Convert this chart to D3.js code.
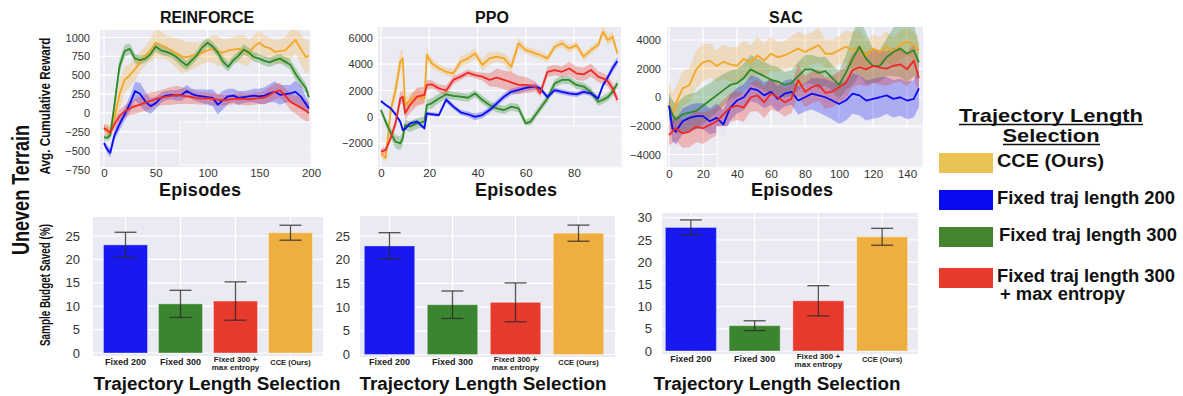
<!DOCTYPE html>
<html lang="en">
<head>
<meta charset="UTF-8">
<title>Uneven Terrain</title>
<script src="https://d3js.org/d3.v7.min.js"></script>
<style>
  body { margin: 0; background: #fff; }
  svg { display: block; font-family: "Liberation Sans", Arial, sans-serif; }
</style>
</head>
<body>
<svg width="1183" height="396"></svg>
<script>
// ---- REINFORCE learning curves ----
const rfEpisodes = [0,3,6,10,15,20,25,30,35,40,45,50,55,60,65,70,75,80,85,90,95,100,105,110,115,120,125,130,135,140,145,150,155,160,165,170,175,180,185,190,195,198];
const rfCCE = [-200,-230,-240,-70,250,440,500,580,680,760,830,930,900,870,830,790,750,740,760,770,800,830,850,820,800,830,840,850,830,800,880,930,880,860,810,820,830,900,970,850,740,760];
const rfCCEErr = [60,80,90,120,200,180,150,150,130,120,150,200,180,160,170,200,220,200,180,160,150,160,180,200,170,150,160,180,200,170,150,160,150,140,150,160,180,200,180,200,220,200];
const rfFixed200 = [-400,-480,-530,-300,-150,-20,120,290,250,150,90,130,200,230,240,230,240,290,250,230,220,210,200,110,170,220,230,200,210,220,230,220,230,260,280,240,250,260,280,220,120,60];
const rfFixed200Err = [40,50,60,70,80,80,100,120,150,130,100,80,70,60,60,70,80,80,70,80,90,100,110,130,120,100,90,90,80,80,90,100,110,120,140,130,120,110,150,140,100,80];
const rfFixed300 = [-320,-330,-300,100,620,820,850,720,700,720,780,880,830,810,785,740,680,630,700,770,870,930,880,800,680,610,700,760,840,800,740,720,690,670,700,720,680,640,520,420,330,210];
const rfFixed300Err = [40,40,50,80,100,80,70,60,60,50,60,70,60,60,50,60,70,60,60,60,70,60,60,60,70,60,60,60,70,60,60,60,60,60,60,60,60,70,80,80,60,50];
const rfMaxEnt = [-200,-230,-260,-150,-40,20,60,90,110,140,160,185,200,215,225,240,230,220,210,195,190,195,185,175,170,175,185,190,185,180,190,195,205,240,280,300,230,150,110,70,30,0];
const rfMaxEntErr = [50,60,60,70,80,80,90,100,100,110,110,100,100,110,120,120,110,100,90,80,80,80,80,80,70,70,70,80,80,80,80,80,90,100,100,100,100,110,120,130,140,130];

// ---- PPO learning curves ----
const ppoEpisodes = [0,2,4,6,8,9,10,12,15,18,19,21,24,27,30,33,36,39,42,45,48,51,54,57,60,62,64,66,69,72,75,78,81,84,87,90,92,94,96,98];
const ppoCCE = [-2800,-3100,500,2000,4180,4430,900,1280,1530,1400,4690,4060,3680,3420,3300,4180,4430,4810,3930,4430,4560,4430,3800,5570,5060,4940,4800,4690,4430,5310,5570,5190,5440,4560,5060,5440,6450,5820,6080,4810];
const ppoCCEErr = [300,300,500,700,800,700,500,500,600,500,500,400,300,300,300,400,400,400,400,500,400,400,500,400,300,300,300,300,300,300,300,300,300,300,300,300,400,400,400,300];
const ppoFixed200 = [1200,900,650,200,-360,-1000,-900,-500,-360,-870,270,200,140,1300,780,350,200,0,140,520,1030,1530,1900,2040,2200,2250,2300,2160,1500,2030,1900,1780,1700,1900,1780,1400,2400,3000,3700,4230];
const ppoFixed200Err = [100,100,100,150,150,150,150,150,150,150,150,150,150,200,200,200,200,250,250,250,250,250,250,250,250,250,250,200,200,200,200,200,200,200,200,200,200,250,300,300];
const ppoFixed300 = [520,-400,-1200,-1880,-2000,-1630,-610,-740,-490,-360,900,1030,1400,1700,1600,1530,1450,1780,1280,900,650,520,780,650,-490,-360,140,650,1400,2540,2800,2800,2420,2300,1900,1150,1300,1500,1900,2540];
const ppoFixed300Err = [200,300,400,500,500,500,400,400,400,400,400,400,350,300,300,300,300,300,300,300,300,300,300,300,300,300,300,300,300,300,300,300,300,300,300,300,300,300,300,300];
const ppoMaxEnt = [-2630,-2500,-1600,-500,1400,1530,270,900,1530,1660,2420,2470,2160,2000,2800,3050,3350,3170,3050,2800,2970,2800,2620,2420,2420,2350,2300,1800,3420,3550,3420,3670,3300,3220,3550,3050,2920,2700,2160,1280];
const ppoMaxEntErr = [250,250,300,400,500,500,500,600,700,600,400,300,300,400,300,250,250,250,300,500,700,700,800,700,600,500,400,300,400,400,400,500,500,500,500,400,400,400,400,300];

// ---- SAC learning curves ----
const sacEpisodes = [0,2,4,8,12,16,20,24,28,32,36,40,44,48,52,56,60,64,68,72,76,80,84,88,92,96,100,104,108,112,116,120,124,128,132,136,140,144,147];
const sacCCE = [-400,-1200,-470,620,860,1950,2440,2560,2190,2480,2300,2190,2680,2440,2920,2560,3040,2800,2920,3160,3400,3160,3400,3650,3040,3040,3280,3530,3280,3530,2920,3400,3160,3530,3160,3650,3890,3650,3280];
const sacCCEErr = [1500,1500,1200,1200,1200,1300,1300,1200,1100,1200,1200,1300,1300,1200,1300,1200,1200,1000,1000,1100,1200,1200,1100,1200,1000,1000,1000,1100,1300,1200,1000,1000,1000,1100,1000,1000,1000,900,900];
const sacFixed200 = [-590,-2170,-2400,-1680,-1440,-1320,-1320,-1680,-1440,-1900,-720,-230,0,620,500,130,380,-110,250,380,-230,0,250,130,0,-230,-470,-230,250,130,-230,-110,0,130,-110,0,-230,-110,620];
const sacFixed200Err = [800,900,900,900,900,900,900,900,1000,1000,900,900,900,900,900,900,900,900,900,900,1000,1000,1100,1200,1300,1300,1400,1400,1400,1400,1400,1400,1400,1300,1300,1300,1300,1300,1300];
const sacFixed300 = [-590,-1200,-1560,-1200,-1080,-950,-590,-230,130,500,860,980,1350,1950,1700,1470,1220,1100,860,980,1470,1950,1950,1700,1830,1350,860,1700,2680,3530,2680,2190,2190,2800,3160,3400,3040,3280,2440];
const sacFixed300Err = [900,1000,1000,1200,1300,1300,1300,1200,1200,1100,1000,1000,1000,1000,1000,1000,1000,1000,900,900,1000,1000,1000,1100,1000,900,1000,1200,1800,2000,1800,1200,1100,1300,1700,2000,2000,1800,1200];
const sacMaxEnt = [-2650,-2400,-2170,-2530,-2400,-2050,-2170,-1930,-1680,-1200,-720,-590,-720,0,130,-350,250,0,-350,-110,1200,380,700,860,300,400,700,1000,1900,2100,1950,2190,2070,2000,2200,2300,1950,2560,1350];
const sacMaxEntErr = [700,800,900,1000,1100,1100,1100,1000,1000,1000,1000,1000,1000,1000,1100,1100,1100,1000,1000,1000,1100,1100,1100,1100,1100,1100,1100,1100,1200,1200,1200,1200,1200,1200,1200,1200,1200,1200,1100];

// ---- sample budget saved (%) ----
const barCategories = ["Fixed 200", "Fixed 300", "Fixed 300 +|max entropy", "CCE (Ours)"];
const rfSaved = [23.1, 10.5, 11.1, 25.7];
const rfSavedErr = [2.7, 2.9, 4.1, 1.6];
const ppoSaved = [22.9, 10.5, 11.0, 25.6];
const ppoSavedErr = [2.8, 2.9, 4.1, 1.7];
const sacSaved = [27.8, 5.7, 11.3, 25.7];
const sacSavedErr = [1.7, 1.1, 3.4, 1.9];

const legendLabels = ["CCE (Ours)", "Fixed traj length 200", "Fixed traj length 300", "Fixed traj length 300|+ max entropy"];

const lineColor = { cce: "#f5a623", f200: "#0b0bf5", f300: "#2e8a28", maxent: "#ee2a22" };
const barColor = ["#1818f0", "#3c8530", "#e73a2d", "#efae40"];
const legendColor = ["#e9c455", "#0b0bf0", "#468530", "#e83a2b"];

const svg = d3.select("svg");
const BG = "#eaeaf2";
const fmt = d3.format("d");

function lineChart(o) {
    const x = d3.scaleLinear().domain(o.xRef).range(o.xPix);
    const y = d3.scaleLinear().domain(o.yRef).range(o.yPix);
    const [bx0, by0, bx1, by1] = o.box;
    const g = svg.append("g");

    svg.append("clipPath").attr("id", "clip-" + o.name)
        .append("rect").attr("x", bx0).attr("y", by0).attr("width", bx1 - bx0).attr("height", by1 - by0);

    g.append("rect").attr("x", bx0).attr("y", by0).attr("width", bx1 - bx0).attr("height", by1 - by0).attr("fill", BG);

    const grid = g.append("g").attr("clip-path", `url(#clip-${o.name})`)
        .attr("stroke", "#fff").attr("stroke-width", 1.2);
    grid.selectAll(".gx").data(o.xTicks).join("line")
        .attr("x1", d => x(d)).attr("x2", d => x(d)).attr("y1", by0).attr("y2", by1);
    grid.selectAll(".gy").data(o.yTicks).join("line")
        .attr("y1", d => y(d)).attr("y2", d => y(d)).attr("x1", bx0).attr("x2", bx1);

    const plot = g.append("g").attr("clip-path", `url(#clip-${o.name})`);
    const rows = s => o.episodes.map((e, i) => ({ e: e, v: s.values[i], err: s.err[i] }));

    o.series.forEach(s => {
        plot.append("path").datum(rows(s))
            .attr("d", d3.area().x(d => x(d.e)).y0(d => y(d.v - d.err)).y1(d => y(d.v + d.err)))
            .attr("fill", s.color).attr("opacity", s.bandOpacity);
    });
    o.series.forEach(s => {
        plot.append("path").datum(rows(s))
            .attr("d", d3.line().x(d => x(d.e)).y(d => y(d.v)))
            .attr("fill", "none").attr("stroke", s.color).attr("stroke-width", 1.8)
            .attr("stroke-linejoin", "round");
    });

    // pale patch sitting over the lower right of every panel
    const [ox0, oy0, ox1, oy1] = o.patch;
    g.append("rect").attr("x", ox0).attr("y", oy0).attr("width", ox1 - ox0).attr("height", oy1 - oy0)
        .attr("fill", "#eeeef4").attr("opacity", 0.92).attr("stroke", "#fafafc").attr("stroke-width", 1.5);

    g.append("g").attr("transform", `translate(${o.yAxisX},0)`)
        .call(d3.axisLeft(y).tickValues(o.yTicks).tickFormat(fmt).tickSize(0).tickPadding(0))
        .call(a => a.select(".domain").remove())
        .attr("font-family", null).attr("font-size", 11)
        .selectAll("text").attr("fill", "#333");

    g.append("g").attr("transform", `translate(0,${o.xAxisY})`)
        .call(d3.axisBottom(x).tickValues(o.xTicks).tickFormat(fmt).tickSize(0).tickPadding(0))
        .call(a => a.select(".domain").remove())
        .attr("font-family", null).attr("font-size", 11.5)
        .selectAll("text").attr("fill", "#333");

    g.append("text").attr("x", o.titleX).attr("y", 23).attr("text-anchor", "middle")
        .attr("font-size", 16).attr("font-weight", "bold").attr("fill", "#111").text(o.title);
    g.append("text").attr("x", o.labelX).attr("y", 196).attr("text-anchor", "middle")
        .attr("font-size", 18).attr("font-weight", "bold").attr("fill", "#111")
        .attr("textLength", 82).text("Episodes");
}

function barChart(o) {
    const x = d3.scaleBand().domain(barCategories).range(o.xRange).paddingInner(0.2).paddingOuter(0.1);
    const y = d3.scaleLinear().domain(o.yRef).range(o.yPix);
    const [bx0, by0, bx1, by1] = o.box;
    const g = svg.append("g");

    g.append("rect").attr("x", bx0).attr("y", by0).attr("width", bx1 - bx0).attr("height", by1 - by0).attr("fill", BG);
    g.selectAll(".gy").data(o.yTicks).join("line")
        .attr("x1", bx0).attr("x2", bx1).attr("y1", d => y(d)).attr("y2", d => y(d))
        .attr("stroke", "#fff").attr("stroke-width", 1.2);
    g.selectAll(".gx").data(barCategories).join("line")
        .attr("x1", d => x(d) + x.bandwidth() / 2).attr("x2", d => x(d) + x.bandwidth() / 2)
        .attr("y1", by0).attr("y2", by1)
        .attr("stroke", "#fff").attr("stroke-width", 1.2);

    const rows = barCategories.map((c, i) => ({ c: c, v: o.values[i], err: o.err[i], color: barColor[i] }));

    g.selectAll(".bar").data(rows).join("rect")
        .attr("x", d => x(d.c)).attr("width", x.bandwidth())
        .attr("y", d => y(d.v)).attr("height", d => y(0) - y(d.v))
        .attr("fill", d => d.color).attr("stroke", "#ffffff").attr("stroke-opacity", 0.35).attr("stroke-width", 1);

    const eb = g.append("g").attr("stroke", "#2b2b2b").attr("stroke-opacity", 0.8).attr("stroke-width", 1.3);
    rows.forEach(d => {
        const cx = x(d.c) + x.bandwidth() / 2;
        eb.append("line").attr("x1", cx).attr("x2", cx).attr("y1", y(d.v - d.err)).attr("y2", y(d.v + d.err));
        eb.append("line").attr("x1", cx - 11).attr("x2", cx + 11).attr("y1", y(d.v - d.err)).attr("y2", y(d.v - d.err));
        eb.append("line").attr("x1", cx - 11).attr("x2", cx + 11).attr("y1", y(d.v + d.err)).attr("y2", y(d.v + d.err));
    });

    g.append("g").attr("transform", `translate(${o.yAxisX},0)`)
        .call(d3.axisLeft(y).tickValues(o.yTicks).tickFormat(fmt).tickSize(0).tickPadding(0))
        .call(a => a.select(".domain").remove())
        .attr("font-family", null).attr("font-size", 13)
        .selectAll("text").attr("fill", "#333");

    rows.forEach((d, i) => {
        const cx = x(d.c) + x.bandwidth() / 2;
        const lines = d.c.split("|");
        const t = g.append("text").attr("text-anchor", "middle").attr("font-weight", "bold").attr("fill", "#222");
        if (lines.length > 1) {
            lines.forEach((s, k) => t.append("tspan").attr("x", cx).attr("y", o.catY - 3.5 + k * 8.5).text(s));
            t.attr("font-size", 8);
        } else {
            t.attr("x", cx).attr("y", o.catY).attr("font-size", i === 3 ? 7.5 : 9).text(lines[0]);
        }
    });

    g.append("text").attr("x", o.titleX).attr("y", 390).attr("text-anchor", "middle")
        .attr("font-size", 18).attr("font-weight", "bold").attr("fill", "#111")
        .attr("textLength", 247).attr("lengthAdjust", "spacingAndGlyphs")
        .text("Trajectory Length Selection");
}

const seriesFor = (cce, cceE, f200, f200E, f300, f300E, me, meE) => [
    { values: cce, err: cceE, color: lineColor.cce, bandOpacity: 0.25 },
    { values: f300, err: f300E, color: lineColor.f300, bandOpacity: 0.3 },
    { values: f200, err: f200E, color: lineColor.f200, bandOpacity: 0.28 },
    { values: me, err: meE, color: lineColor.maxent, bandOpacity: 0.28 }
];

lineChart({
    name: "rf", title: "REINFORCE", titleX: 207, labelX: 200,
    episodes: rfEpisodes,
    series: seriesFor(rfCCE, rfCCEErr, rfFixed200, rfFixed200Err, rfFixed300, rfFixed300Err, rfMaxEnt, rfMaxEntErr),
    xRef: [0, 200], xPix: [104, 311], yRef: [1000, -750], yPix: [37.5, 169.5],
    box: [100, 30, 311, 167], patch: [180, 122, 311, 165],
    xTicks: [0, 50, 100, 150, 200], yTicks: [1000, 750, 500, 250, 0, -250, -500, -750],
    yAxisX: 90, xAxisY: 169
});

lineChart({
    name: "ppo", title: "PPO", titleX: 492, labelX: 516,
    episodes: ppoEpisodes,
    series: seriesFor(ppoCCE, ppoCCEErr, ppoFixed200, ppoFixed200Err, ppoFixed300, ppoFixed300Err, ppoMaxEnt, ppoMaxEntErr),
    xRef: [0, 80], xPix: [381, 574], yRef: [6000, -2000], yPix: [37.7, 143.3],
    box: [378, 27, 621, 167], patch: [430, 126, 622, 167],
    xTicks: [0, 20, 40, 60, 80], yTicks: [6000, 4000, 2000, 0, -2000],
    yAxisX: 373, xAxisY: 169
});

lineChart({
    name: "sac", title: "SAC", titleX: 786, labelX: 792,
    episodes: sacEpisodes,
    series: seriesFor(sacCCE, sacCCEErr, sacFixed200, sacFixed200Err, sacFixed300, sacFixed300Err, sacMaxEnt, sacMaxEntErr),
    xRef: [0, 140], xPix: [669, 907], yRef: [4000, -4000], yPix: [40, 154.5],
    box: [667, 27, 923, 167], patch: [717, 127, 923, 167],
    xTicks: [0, 20, 40, 60, 80, 100, 120, 140], yTicks: [4000, 2000, 0, -2000, -4000],
    yAxisX: 661, xAxisY: 170
});

barChart({
    values: rfSaved, err: rfSavedErr, titleX: 217, catY: 365,
    xRange: [98, 318], yRef: [0, 25], yPix: [353, 236],
    box: [93, 217, 323, 356], yTicks: [0, 5, 10, 15, 20, 25], yAxisX: 80
});
barChart({
    values: ppoSaved, err: ppoSavedErr, titleX: 483, catY: 365,
    xRange: [358, 610], yRef: [0, 25], yPix: [354.5, 236],
    box: [360, 216, 615, 357], yTicks: [0, 5, 10, 15, 20, 25], yAxisX: 350
});
barChart({
    values: sacSaved, err: sacSavedErr, titleX: 777, catY: 362,
    xRange: [659, 914], yRef: [0, 30], yPix: [351, 217.7],
    box: [662, 213, 918, 354], yTicks: [0, 5, 10, 15, 20, 25, 30], yAxisX: 652
});

// side labels
svg.append("text").attr("transform", "translate(29,190) rotate(-90)").attr("text-anchor", "middle")
    .attr("font-size", 24).attr("font-weight", "bold").attr("fill", "#111")
    .attr("textLength", 130).attr("lengthAdjust", "spacingAndGlyphs").text("Uneven Terrain");
svg.append("text").attr("transform", "translate(50,106) rotate(-90)").attr("text-anchor", "middle")
    .attr("font-size", 14.5).attr("font-weight", "bold").attr("fill", "#111")
    .attr("textLength", 137).attr("lengthAdjust", "spacingAndGlyphs").text("Avg. Cumulative Reward");
svg.append("text").attr("transform", "translate(50,285) rotate(-90)").attr("text-anchor", "middle")
    .attr("font-size", 14.5).attr("font-weight", "bold").attr("fill", "#111")
    .attr("textLength", 122).attr("lengthAdjust", "spacingAndGlyphs").text("Sample Budget Saved (%)");

// legend
const lg = svg.append("g").attr("font-weight", "bold").attr("fill", "#111");
lg.append("text").attr("x", 1051).attr("y", 122).attr("text-anchor", "middle").attr("font-size", 19)
    .attr("textLength", 184).attr("lengthAdjust", "spacingAndGlyphs").text("Trajectory Length");
lg.append("text").attr("x", 1051).attr("y", 142).attr("text-anchor", "middle").attr("font-size", 19)
    .attr("textLength", 97).attr("lengthAdjust", "spacingAndGlyphs").text("Selection");
lg.append("line").attr("x1", 959).attr("x2", 1143).attr("y1", 124.5).attr("y2", 124.5).attr("stroke", "#111").attr("stroke-width", 1.3);
lg.append("line").attr("x1", 1003).attr("x2", 1100).attr("y1", 144.5).attr("y2", 144.5).attr("stroke", "#111").attr("stroke-width", 1.3);

const legendY = [153, 190, 227, 268];
const legendTextX = [997, 997, 999, 997];
const legendTextW = [[107], [178], [178], [178, 125]];
legendLabels.forEach((lab, i) => {
    lg.append("rect").attr("x", 939).attr("y", legendY[i]).attr("width", 54).attr("height", 20)
        .attr("fill", legendColor[i]);
    lab.split("|").forEach((s, k) => {
        lg.append("text").attr("x", legendTextX[i] + (k ? 3 : 0)).attr("y", legendY[i] + 14 + k * 18)
            .attr("font-size", 17.5).attr("textLength", legendTextW[i][k])
            .attr("lengthAdjust", "spacingAndGlyphs").text(s);
    });
});
</script>
</body>
</html>
